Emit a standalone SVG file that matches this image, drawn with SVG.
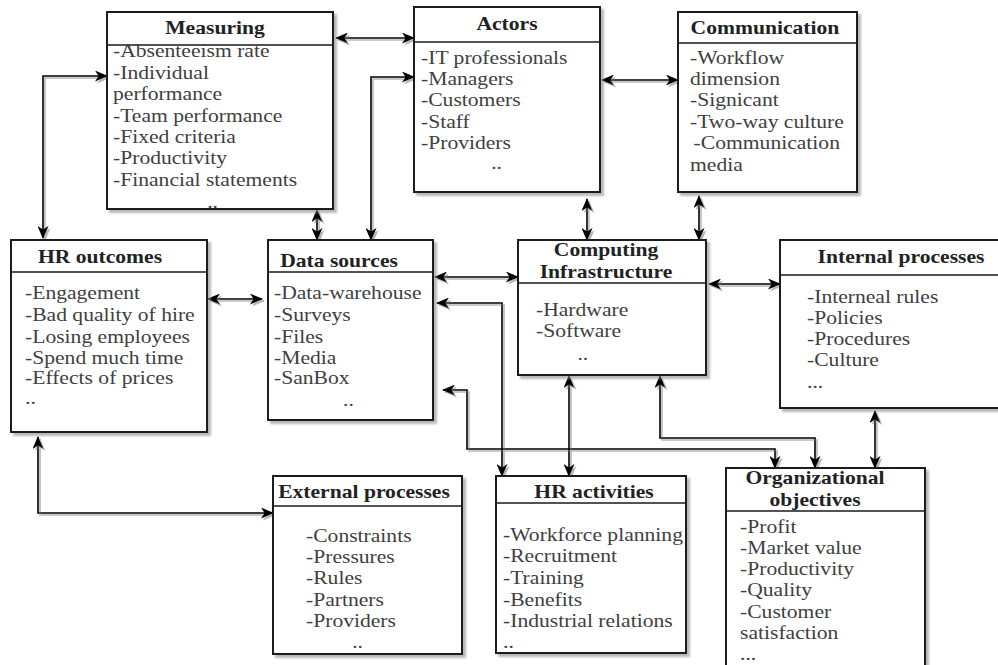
<svg xmlns="http://www.w3.org/2000/svg" width="998" height="665" viewBox="0 0 998 665">
<defs>
<style>
.box{fill:#fff;stroke:#1a1a1a;stroke-width:2}
.div{stroke:#1a1a1a;stroke-width:1.6}
.h{font-family:"Liberation Serif",serif;font-size:18px;font-weight:bold;fill:#222;text-anchor:middle}
.i{font-family:"Liberation Serif",serif;font-size:18px;fill:#404040}
.c{text-anchor:middle}
.ln{fill:none;stroke:#000;stroke-width:1.6;marker-start:url(#a);marker-end:url(#a)}
</style>
<filter id="sh" x="-10%" y="-10%" width="130%" height="130%">
<feDropShadow dx="3" dy="3" stdDeviation="1" flood-color="#888" flood-opacity="0.6"/>
</filter>
<filter id="lsh" x="-10%" y="-10%" width="130%" height="130%">
<feDropShadow dx="2" dy="2" stdDeviation="0.6" flood-color="#999" flood-opacity="0.7"/>
</filter>
<marker id="a" viewBox="0 0 13 11" refX="12" refY="5.5" markerWidth="13" markerHeight="11" markerUnits="userSpaceOnUse" orient="auto-start-reverse">
<path d="M0,0 L13,5.5 L0,11 L3.5,5.5 z" fill="#000"/>
</marker>
</defs>
<rect width="998" height="665" fill="#fff"/>

<g id="connectors" filter="url(#lsh)">
<path class="ln" d="M43,238 L43,76 L107,76"/>
<path class="ln" d="M336,38 L414,38"/>
<path class="ln" d="M317,210 L317,240"/>
<path class="ln" d="M371,240 L371,77 L414,77"/>
<path class="ln" d="M602,80 L678,80"/>
<path class="ln" d="M587,199 L587,240"/>
<path class="ln" d="M699,196 L699,240"/>
<path class="ln" d="M208,299 L262,299"/>
<path class="ln" d="M435,277 L518,277"/>
<path class="ln" d="M709,284 L780,284"/>
<path class="ln" d="M437,303 L502,303 L502,476"/>
<path class="ln" d="M443,390 L467,390 L467,449 L775,449 L775,468"/>
<path class="ln" d="M569,376 L569,476"/>
<path class="ln" d="M660,376 L660,438 L815,438 L815,468"/>
<path class="ln" d="M875,411 L875,468"/>
<path class="ln" d="M38,437 L38,513 L273,513"/>
</g>

<g id="measuring">
<rect class="box" x="107" y="12" width="226" height="197" filter="url(#sh)"/>
<line class="div" x1="107" y1="45" x2="333" y2="45"/>
<g transform="translate(215,0) scale(1.2,1)"><text class="h" x="0" y="34">Measuring</text></g>
<g transform="translate(113,0) scale(1.2,1)">
<text class="i" x="0" y="57">-Absenteeism rate</text>
<text class="i" x="0" y="79">-Individual</text>
<text class="i" x="0" y="100">performance</text>
<text class="i" x="0" y="122">-Team performance</text>
<text class="i" x="0" y="143">-Fixed criteria</text>
<text class="i" x="0" y="164">-Productivity</text>
<text class="i" x="0" y="186">-Financial statements</text>
<text class="i c" x="83" y="208">..</text>
</g>
</g>

<g id="actors">
<rect class="box" x="414" y="7" width="186" height="185" filter="url(#sh)"/>
<line class="div" x1="414" y1="42" x2="600" y2="42"/>
<g transform="translate(507,0) scale(1.2,1)"><text class="h" x="0" y="30">Actors</text></g>
<g transform="translate(421,0) scale(1.2,1)">
<text class="i" x="0" y="64">-IT professionals</text>
<text class="i" x="0" y="85">-Managers</text>
<text class="i" x="0" y="106">-Customers</text>
<text class="i" x="0" y="128">-Staff</text>
<text class="i" x="0" y="149">-Providers</text>
<text class="i c" x="63" y="169">..</text>
</g>
</g>

<g id="communication">
<rect class="box" x="678" y="12" width="179" height="180" filter="url(#sh)"/>
<line class="div" x1="678" y1="43" x2="857" y2="43"/>
<g transform="translate(765,0) scale(1.2,1)"><text class="h" x="0" y="34">Communication</text></g>
<g transform="translate(690,0) scale(1.2,1)">
<text class="i" x="0" y="64">-Workflow</text>
<text class="i" x="0" y="85">dimension</text>
<text class="i" x="0" y="106">-Signicant</text>
<text class="i" x="0" y="128">-Two-way culture</text>
<text class="i" x="3" y="149">-Communication</text>
<text class="i" x="0" y="171">media</text>
</g>
</g>

<g id="hr-outcomes">
<rect class="box" x="11" y="240" width="196" height="192" filter="url(#sh)"/>
<line class="div" x1="11" y1="272" x2="207" y2="272"/>
<g transform="translate(100,0) scale(1.2,1)"><text class="h" x="0" y="263">HR outcomes</text></g>
<g transform="translate(25,0) scale(1.2,1)">
<text class="i" x="0" y="299">-Engagement</text>
<text class="i" x="0" y="321">-Bad quality of hire</text>
<text class="i" x="0" y="343">-Losing employees</text>
<text class="i" x="0" y="364">-Spend much time</text>
<text class="i" x="0" y="384">-Effects of prices</text>
<text class="i" x="0" y="404">..</text>
</g>
</g>

<g id="data-sources">
<rect class="box" x="268" y="240" width="165" height="180" filter="url(#sh)"/>
<line class="div" x1="268" y1="272" x2="433" y2="272"/>
<g transform="translate(339,0) scale(1.2,1)"><text class="h" x="0" y="267">Data sources</text></g>
<g transform="translate(274,0) scale(1.2,1)">
<text class="i" x="0" y="299">-Data-warehouse</text>
<text class="i" x="0" y="321">-Surveys</text>
<text class="i" x="0" y="343">-Files</text>
<text class="i" x="0" y="364">-Media</text>
<text class="i" x="0" y="384">-SanBox</text>
<text class="i c" x="62" y="406">..</text>
</g>
</g>

<g id="computing">
<rect class="box" x="518" y="240" width="188" height="135" filter="url(#sh)"/>
<line class="div" x1="518" y1="283" x2="706" y2="283"/>
<g transform="translate(606,0) scale(1.2,1)">
<text class="h" x="0" y="256">Computing</text>
<text class="h" x="0" y="278">Infrastructure</text>
</g>
<g transform="translate(536,0) scale(1.2,1)">
<text class="i" x="0" y="316">-Hardware</text>
<text class="i" x="0" y="337">-Software</text>
<text class="i c" x="39" y="360">..</text>
</g>
</g>

<g id="internal-processes">
<rect class="box" x="780" y="240" width="226" height="168" filter="url(#sh)"/>
<line class="div" x1="780" y1="275" x2="1006" y2="275"/>
<g transform="translate(901,0) scale(1.2,1)"><text class="h" x="0" y="263">Internal processes</text></g>
<g transform="translate(807,0) scale(1.2,1)">
<text class="i" x="0" y="303">-Interneal rules</text>
<text class="i" x="0" y="324">-Policies</text>
<text class="i" x="0" y="345">-Procedures</text>
<text class="i" x="0" y="366">-Culture</text>
<text class="i" x="0" y="388">...</text>
</g>
</g>

<g id="external-processes">
<rect class="box" x="273" y="476" width="189" height="178" filter="url(#sh)"/>
<line class="div" x1="273" y1="506" x2="462" y2="506"/>
<g transform="translate(364,0) scale(1.2,1)"><text class="h" x="0" y="498">External processes</text></g>
<g transform="translate(306,0) scale(1.2,1)">
<text class="i" x="0" y="542">-Constraints</text>
<text class="i" x="0" y="563">-Pressures</text>
<text class="i" x="0" y="584">-Rules</text>
<text class="i" x="0" y="606">-Partners</text>
<text class="i" x="0" y="627">-Providers</text>
<text class="i c" x="43" y="648">..</text>
</g>
</g>

<g id="hr-activities">
<rect class="box" x="496" y="476" width="190" height="177" filter="url(#sh)"/>
<line class="div" x1="496" y1="503" x2="686" y2="503"/>
<g transform="translate(594,0) scale(1.2,1)"><text class="h" x="0" y="498">HR activities</text></g>
<g transform="translate(503,0) scale(1.2,1)">
<text class="i" x="0" y="541">-Workforce planning</text>
<text class="i" x="0" y="562">-Recruitment</text>
<text class="i" x="0" y="584">-Training</text>
<text class="i" x="0" y="606">-Benefits</text>
<text class="i" x="0" y="627">-Industrial relations</text>
<text class="i" x="0" y="648">..</text>
</g>
</g>

<g id="organizational-objectives">
<rect class="box" x="726" y="468" width="199" height="210" filter="url(#sh)"/>
<line class="div" x1="726" y1="511" x2="925" y2="511"/>
<g transform="translate(815,0) scale(1.2,1)">
<text class="h" x="0" y="484">Organizational</text>
<text class="h" x="0" y="506">objectives</text>
</g>
<g transform="translate(740,0) scale(1.2,1)">
<text class="i" x="0" y="533">-Profit</text>
<text class="i" x="0" y="554">-Market value</text>
<text class="i" x="0" y="575">-Productivity</text>
<text class="i" x="0" y="596">-Quality</text>
<text class="i" x="0" y="618">-Customer</text>
<text class="i" x="0" y="639">satisfaction</text>
<text class="i" x="0" y="660">...</text>
</g>
</g>
</svg>
